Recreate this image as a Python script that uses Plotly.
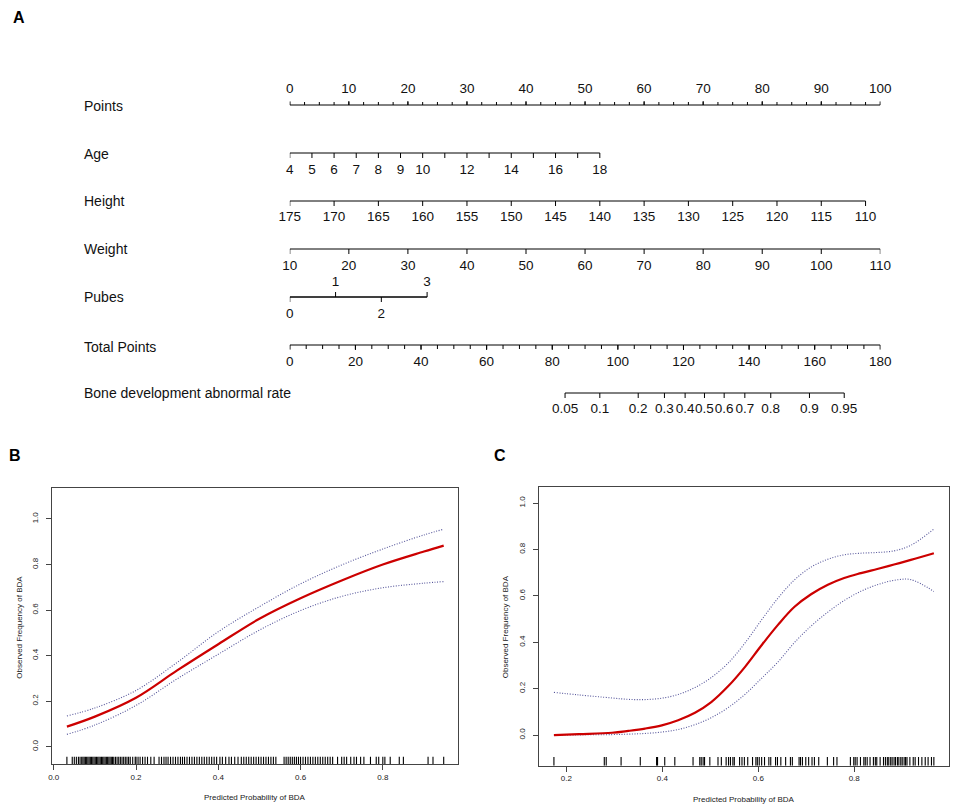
import plotly.graph_objects as go

W, H = 957, 808
FONT = "Liberation Sans, Arial, sans-serif"

# ---------------- Panel A: nomogram scales ----------------
points_labels = [0, 10, 20, 30, 40, 50, 60, 70, 80, 90, 100]
points_minor = [0, 2.5, 5, 7.5, 10, 12.5, 15, 17.5, 20, 22.5, 25, 27.5, 30, 32.5, 35, 37.5,
                40, 42.5, 45, 47.5, 50, 52.5, 55, 57.5, 60, 62.5, 65, 67.5, 70, 72.5, 75, 77.5,
                80, 82.5, 85, 87.5, 90, 92.5, 95, 97.5, 100]

age_values = [4, 5, 6, 7, 8, 9, 10, 11, 12, 13, 14, 15, 16, 17, 18]
age_points = [0, 3.75, 7.5, 11.25, 15, 18.75, 22.5, 26.25, 30, 33.75, 37.5, 41.25, 45, 48.75, 52.5]
age_labelled = [4, 5, 6, 7, 8, 9, 10, 12, 14, 16, 18]

height_values = [175, 170, 165, 160, 155, 150, 145, 140, 135, 130, 125, 120, 115, 110]
height_points = [0, 7.5, 15, 22.5, 30, 37.5, 45, 52.5, 60, 67.5, 75, 82.5, 90, 97.5]

weight_values = [10, 20, 30, 40, 50, 60, 70, 80, 90, 100, 110]
weight_points = [0, 10, 20, 30, 40, 50, 60, 70, 80, 90, 100]

pubes_values = [0, 1, 2, 3]
pubes_points = [0, 7.75, 15.5, 23.25]
pubes_above = [1, 3]

total_labels = [0, 20, 40, 60, 80, 100, 120, 140, 160, 180]
total_minor = [0, 5, 10, 15, 20, 25, 30, 35, 40, 45, 50, 55, 60, 65, 70, 75, 80, 85, 90, 95,
               100, 105, 110, 115, 120, 125, 130, 135, 140, 145, 150, 155, 160, 165, 170, 175, 180]

bda_values = [0.05, 0.1, 0.2, 0.3, 0.4, 0.5, 0.6, 0.7, 0.8, 0.9, 0.95]
bda_total = [83.9, 94.5, 106.2, 114.2, 120.5, 126.4, 132.4, 138.7, 146.6, 158.4, 169.0]

row_names = ["Points", "Age", "Height", "Weight", "Pubes", "Total Points",
             "Bone development abnormal rate"]

# ---------------- Panel B: calibration (training) ----------------
b_x = [0.032, 0.1, 0.2, 0.3, 0.4, 0.5, 0.6, 0.7, 0.8, 0.9, 0.948]
b_fit = [0.088, 0.132, 0.215, 0.335, 0.450, 0.562, 0.652, 0.730, 0.800, 0.857, 0.883]
b_upper = [0.135, 0.170, 0.247, 0.370, 0.505, 0.615, 0.715, 0.798, 0.868, 0.930, 0.955]
b_lower = [0.054, 0.095, 0.181, 0.298, 0.406, 0.512, 0.598, 0.660, 0.698, 0.718, 0.725]
b_rug = [0.032, 0.045, 0.05, 0.055, 0.06, 0.064, 0.068, 0.071, 0.074, 0.077, 0.08, 0.083, 0.086,
         0.089, 0.092, 0.095, 0.098, 0.101, 0.104, 0.107, 0.11, 0.113, 0.116, 0.119, 0.122, 0.125,
         0.128, 0.131, 0.134, 0.137, 0.14, 0.143, 0.146, 0.15, 0.154, 0.158, 0.162, 0.166, 0.17,
         0.174, 0.178, 0.182, 0.186, 0.192, 0.198, 0.2, 0.205, 0.21, 0.216, 0.222, 0.228, 0.236,
         0.244, 0.256, 0.262, 0.268, 0.273, 0.278, 0.284, 0.29, 0.296, 0.302, 0.308, 0.313, 0.318,
         0.324, 0.33, 0.336, 0.342, 0.348, 0.354, 0.36, 0.366, 0.372, 0.378, 0.384, 0.39, 0.396,
         0.404, 0.41, 0.418, 0.426, 0.432, 0.44, 0.448, 0.456, 0.462, 0.468, 0.474, 0.48, 0.486,
         0.492, 0.498, 0.504, 0.51, 0.516, 0.522, 0.528, 0.534, 0.54, 0.56, 0.565, 0.57, 0.575,
         0.58, 0.585, 0.59, 0.595, 0.6, 0.606, 0.612, 0.618, 0.624, 0.63, 0.636, 0.642, 0.648,
         0.654, 0.66, 0.666, 0.672, 0.678, 0.69, 0.7, 0.706, 0.712, 0.722, 0.73, 0.736, 0.746,
         0.754, 0.77, 0.784, 0.79, 0.8, 0.805, 0.818, 0.84, 0.85, 0.91, 0.922, 0.948]

# ---------------- Panel C: calibration (validation) ----------------
c_x = [0.174, 0.226, 0.295, 0.329, 0.364, 0.399, 0.433, 0.468, 0.502, 0.537, 0.572, 0.606,
       0.641, 0.675, 0.710, 0.745, 0.779, 0.814, 0.848, 0.883, 0.918, 0.966]
c_fit = [0.0, 0.004, 0.010, 0.018, 0.028, 0.042, 0.064, 0.096, 0.142, 0.210, 0.293, 0.385,
         0.475, 0.552, 0.607, 0.648, 0.677, 0.698, 0.716, 0.735, 0.755, 0.784]
c_upper = [0.184, 0.173, 0.160, 0.154, 0.153, 0.159, 0.175, 0.205, 0.248, 0.310, 0.396, 0.494,
           0.590, 0.668, 0.724, 0.758, 0.777, 0.784, 0.787, 0.794, 0.818, 0.888]
c_lower = [0.0, 0.001, 0.002, 0.004, 0.007, 0.013, 0.024, 0.045, 0.075, 0.118, 0.175, 0.243,
           0.315, 0.398, 0.470, 0.530, 0.580, 0.620, 0.648, 0.667, 0.670, 0.619]
c_rug = [0.174, 0.279, 0.283, 0.314, 0.354, 0.388, 0.39, 0.405, 0.426, 0.464, 0.478, 0.481,
         0.485, 0.488, 0.499, 0.516, 0.523, 0.533, 0.538, 0.542, 0.547, 0.55, 0.561, 0.566,
         0.571, 0.578, 0.588, 0.595, 0.598, 0.602, 0.607, 0.613, 0.622, 0.626, 0.636, 0.64,
         0.647, 0.657, 0.667, 0.671, 0.685, 0.688, 0.692, 0.699, 0.705, 0.712, 0.717, 0.726,
         0.744, 0.757, 0.764, 0.792, 0.799, 0.802, 0.806, 0.813, 0.82, 0.823, 0.827, 0.833,
         0.84, 0.844, 0.847, 0.854, 0.861, 0.865, 0.869, 0.872, 0.876, 0.879, 0.883, 0.886,
         0.89, 0.893, 0.897, 0.9, 0.904, 0.907, 0.91, 0.916, 0.923, 0.927, 0.934, 0.941,
         0.948, 0.954, 0.961, 0.966]


def fmt(v):
    return ("%g" % v)


def tick_segments(xs, ybase, length):
    X, Y = [], []
    for x in xs:
        X += [x, x, None]
        Y += [ybase, ybase + length, None]
    return X, Y


fig = go.Figure()
LINE = dict(color="black", width=1)
TXT = dict(family=FONT, size=13.5, color="#111111")


def add_row(xs_line, ticks_major, ticks_minor, ybase, direction, xa="x",
            major_len=5, minor_len=3):
    X = [min(xs_line), max(xs_line), None]
    Y = [ybase, ybase, None]
    tx, ty = tick_segments(ticks_major, ybase, direction * major_len)
    X += tx; Y += ty
    if ticks_minor:
        tx, ty = tick_segments(ticks_minor, ybase, direction * minor_len)
        X += tx; Y += ty
    fig.add_trace(go.Scatter(x=X, y=Y, mode="lines", line=LINE, xaxis=xa, yaxis="y",
                             hoverinfo="skip", cliponaxis=False))


def add_labels(xs, labels, ylab, xa="x"):
    fig.add_trace(go.Scatter(x=xs, y=[ylab] * len(xs), mode="text", text=labels,
                             textposition="middle center", textfont=TXT, cliponaxis=False,
                             xaxis=xa, yaxis="y", hoverinfo="skip"))


row_y = [105, 153, 201, 249, 297, 345, 393]

# Points
add_row(points_labels, points_labels, points_minor, row_y[0], -1, major_len=4, minor_len=3)
add_labels(points_labels, [fmt(v) for v in points_labels], row_y[0] - 15)

# Age
age_lab_pts = [age_points[age_values.index(v)] for v in age_labelled]
add_row(age_points, age_points, None, row_y[1], 1)
add_labels(age_lab_pts, [fmt(v) for v in age_labelled], row_y[1] + 18)

# Height
add_row(height_points, height_points, None, row_y[2], 1)
add_labels(height_points, [fmt(v) for v in height_values], row_y[2] + 17)

# Weight
add_row(weight_points, weight_points, None, row_y[3], 1)
add_labels(weight_points, [fmt(v) for v in weight_values], row_y[3] + 18)

# Pubes
up = [p for v, p in zip(pubes_values, pubes_points) if v in pubes_above]
dn = [p for v, p in zip(pubes_values, pubes_points) if v not in pubes_above]
add_row(pubes_points, dn, None, row_y[4], 1)
add_row(pubes_points, up, None, row_y[4], -1)
add_labels(up, [fmt(v) for v in pubes_values if v in pubes_above], row_y[4] - 14)
add_labels(dn, [fmt(v) for v in pubes_values if v not in pubes_above], row_y[4] + 18)

# Total points
add_row(total_labels, total_labels, total_minor, row_y[5], 1, xa="x4", major_len=5, minor_len=4)
add_labels(total_labels, [fmt(v) for v in total_labels], row_y[5] + 18, xa="x4")

# Bone development abnormal rate
add_row(bda_total, bda_total, None, row_y[6], 1, xa="x4")
add_labels(bda_total, [fmt(v) for v in bda_values], row_y[6] + 17, xa="x4")

# ---------------- Panels B & C ----------------
RED = "#cc0000"
CI = "#55559a"


def add_calib(xs, fit, lo, hi, rug, xa, ya, rug_y0, rug_y1):
    for ys in (hi, lo):
        fig.add_trace(go.Scatter(x=xs, y=ys, mode="lines", xaxis=xa, yaxis=ya,
                                 line=dict(color=CI, width=1.1, dash="1px,1.6px", shape="spline",
                                           smoothing=1.0), hoverinfo="skip"))
    fig.add_trace(go.Scatter(x=xs, y=fit, mode="lines", xaxis=xa, yaxis=ya,
                             line=dict(color=RED, width=2.2, shape="spline", smoothing=1.0),
                             hoverinfo="skip"))
    RX, RY = [], []
    for r in rug:
        RX += [r, r, None]
        RY += [rug_y0, rug_y1, None]
    fig.add_trace(go.Scatter(x=RX, y=RY, mode="lines", xaxis=xa, yaxis=ya,
                             line=dict(color="black", width=1.1), hoverinfo="skip"))


add_calib(b_x, b_fit, b_lower, b_upper, b_rug, "x2", "y2", -0.076, -0.044)
add_calib(c_x, c_fit, c_lower, c_upper, c_rug, "x3", "y3", -0.132, -0.094)


def px(x):
    return x / W


def py(y):
    return 1 - y / H


hidden = dict(visible=False, showgrid=False, zeroline=False, fixedrange=True)
small = dict(family=FONT, size=8, color="#222222")
box_common = dict(showgrid=False, zeroline=False, showline=True, linecolor="#444444",
                  linewidth=1.3, mirror=True, ticks="outside", ticklen=5, tickwidth=1,
                  tickcolor="#444444", tickfont=small, tickformat=".1f", fixedrange=True)

fig.update_layout(
    width=W, height=H, margin=dict(l=0, r=0, t=0, b=0),
    paper_bgcolor="white", plot_bgcolor="rgba(0,0,0,0)", showlegend=False,
    xaxis=dict(domain=[px(287), px(880)], range=[0, 100], anchor="y", **hidden),
    xaxis4=dict(domain=[px(287), px(880)], range=[0, 180], anchor="y", overlaying="x", **hidden),
    yaxis=dict(domain=[0, 1], range=[H, 0], anchor="x", **hidden),
    xaxis2=dict(domain=[px(48.7), px(456)], range=[-0.003, 0.983], anchor="y2",
                tickvals=[0, 0.2, 0.4, 0.6, 0.8], **box_common),
    yaxis2=dict(domain=[py(764), py(488)], range=[-0.076, 1.136], anchor="x2",
                tickvals=[0, 0.2, 0.4, 0.6, 0.8, 1.0], tickangle=-90,
                ticklabelstandoff=5, **box_common),
    xaxis3=dict(domain=[px(537.3), px(948.7)], range=[0.143, 0.997], anchor="y3",
                tickvals=[0.2, 0.4, 0.6, 0.8], **box_common),
    yaxis3=dict(domain=[py(765.7), py(487.3)], range=[-0.132, 1.068], anchor="x3",
                tickvals=[0, 0.2, 0.4, 0.6, 0.8, 1.0], tickangle=-90,
                ticklabelstandoff=5, **box_common),
)

ann = []
for name, y in zip(row_names, [106, 154, 201, 249, 297, 347, 393]):
    ann.append(dict(x=px(78), y=py(y), xref="paper", yref="paper", text=name,
                    showarrow=False, xanchor="left", yanchor="middle",
                    font=dict(family=FONT, size=14, color="#111111")))
for letter, (x, y) in zip(["A", "B", "C"], [(15, 17), (11, 456), (498, 456)]):
    ann.append(dict(x=px(x), y=py(y), xref="paper", yref="paper", text="<b>%s</b>" % letter,
                    showarrow=False, xanchor="center", yanchor="middle",
                    font=dict(family=FONT, size=16, color="black")))
for xc, yc in [((48.7 + 456) / 2, 797.5), ((537.3 + 948.7) / 2, 799)]:
    ann.append(dict(x=px(xc), y=py(yc), xref="paper", yref="paper",
                    text="Predicted Probability of BDA", showarrow=False,
                    xanchor="center", yanchor="middle", font=small))
for xc in [16, 503.7]:
    ann.append(dict(x=px(xc), y=py(626.7), xref="paper", yref="paper",
                    text="Observed Frequency of BDA", showarrow=False, textangle=-90,
                    xanchor="center", yanchor="middle", font=small))
fig.update_layout(annotations=ann)

fig.write_html("out.html", config={"displayModeBar": False},
               post_script="document.body.style.margin='0';document.body.style.overflow='hidden';")
